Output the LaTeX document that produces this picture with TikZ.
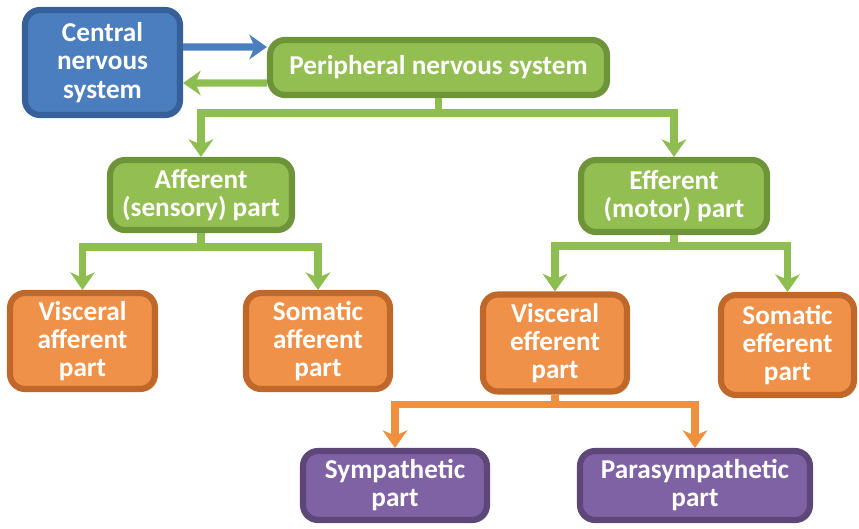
\documentclass[tikz,border=0pt]{standalone}
\usepackage{fontspec}
\setmainfont{Carlito}
\usetikzlibrary{arrows.meta,shadows}
\definecolor{bluefill}{HTML}{4A7EBF}
\definecolor{blueline}{HTML}{36609A}
\definecolor{greenfill}{HTML}{93BE52}
\definecolor{greenline}{HTML}{6E943A}
\definecolor{orangefill}{HTML}{F0914A}
\definecolor{orangeline}{HTML}{C0682A}
\definecolor{purplefill}{HTML}{7F62A3}
\definecolor{purpleline}{HTML}{5C4778}
\definecolor{greenlink}{HTML}{8EBE4F}
\definecolor{orangelink}{HTML}{F0903E}
\tikzstyle{block} = [rectangle, rounded corners=0.3cm, line width=3.5pt, text=white, align=center, inner sep=0pt, font=\bfseries\fontsize{15.5}{16}\selectfont, drop shadow={opacity=0.3, shadow xshift=1.5pt, shadow yshift=-1.5pt}]
\tikzstyle{blueblock} = [block, fill=bluefill, draw=blueline]
\tikzstyle{greenblock} = [block, fill=greenfill, draw=greenline]
\tikzstyle{orangeblock} = [block, fill=orangefill, draw=orangeline]
\tikzstyle{purpleblock} = [block, fill=purplefill, draw=purpleline]
\tikzstyle{link} = [line width=4.2pt, ->]

\begin{document}
\begin{tikzpicture}[x=0.02cm, y=-0.02cm, >={Stealth[length=10pt, width=14pt, inset=3pt]}]
        \useasboundingbox (0,0) rectangle (859,528);
        \node (cns) [blueblock, minimum width=3.1cm, minimum height=2.1cm] at (102.5,62.5) {Central\\nervous\\system};
        \node (pns) [greenblock, minimum width=6.74cm, minimum height=1.1cm] at (438.5,67.5) {Peripheral nervous system};
        \node (aff) [greenblock, minimum width=3.64cm, minimum height=1.4cm] at (201,195) {Afferent\\(sensory) part};
        \node (eff) [greenblock, minimum width=3.72cm, minimum height=1.44cm] at (674,196) {Efferent\\(motor) part};
        \node (vaff) [orangeblock, minimum width=2.9cm, minimum height=1.92cm] at (82.5,341) {Visceral\\afferent\\part};
        \node (saff) [orangeblock, minimum width=2.88cm, minimum height=1.92cm] at (318,341) {Somatic\\afferent\\part};
        \node (veff) [orangeblock, minimum width=2.88cm, minimum height=1.94cm] at (555,343) {Visceral\\efferent\\part};
        \node (seff) [orangeblock, minimum width=2.66cm, minimum height=2cm] at (787.5,345) {Somatic\\efferent\\part};
        \node (symp) [purpleblock, minimum width=3.68cm, minimum height=1.38cm] at (395,485.5) {Sympathetic\\part};
        \node (para) [purpleblock, minimum width=4.6cm, minimum height=1.38cm] at (695,485.5) {Parasympathetic\\part};
        \draw [link, bluefill] ([yshift=0.31cm]cns.east) -- ([yshift=0.41cm]pns.west);
        \draw [link, greenlink] ([yshift=-0.31cm]pns.west) -- ([yshift=-0.41cm]cns.east);
        \draw [link, greenlink] (pns.south) -- ++(0,15) -| (aff.north);
        \draw [link, greenlink] (pns.south) -- ++(0,15) -| (eff.north);
        \draw [link, greenlink] (aff.south) -- ++(0,14) -| (vaff.north);
        \draw [link, greenlink] (aff.south) -- ++(0,14) -| (saff.north);
        \draw [link, greenlink] (eff.south) -- ++(0,11) -| (veff.north);
        \draw [link, greenlink] (eff.south) -- ++(0,11) -| (seff.north);
        \draw [link, orangelink] (veff.south) -- ++(0,10) -| (symp.north);
        \draw [link, orangelink] (veff.south) -- ++(0,10) -| (para.north);
\end{tikzpicture}
\end{document}
